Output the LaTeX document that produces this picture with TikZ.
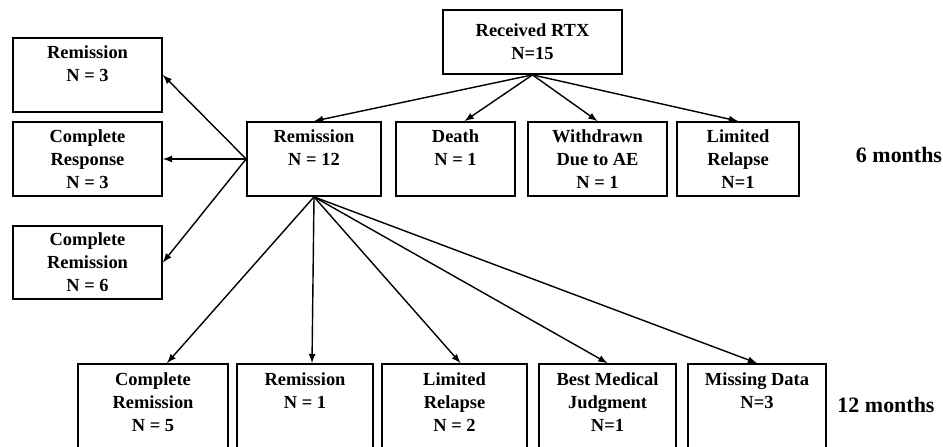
\documentclass[tikz,border=0pt]{standalone}
\usepackage{fontspec}
\setmainfont{Liberation Serif}
\usepackage{tikz}
\usetikzlibrary{shapes}
\pgfdeclarelayer{edgelayer}
\pgfdeclarelayer{nodelayer}
\pgfsetlayers{edgelayer,nodelayer,main}
\tikzstyle{box}=[draw, rectangle, line width=1pt, inner sep=0pt, align=center, minimum height=1.48cm, font=\bfseries\fontsize{10.5}{13.1}\selectfont]
\tikzstyle{period}=[inner sep=0pt, font=\bfseries\fontsize{12.5}{15}\selectfont]
\tikzstyle{arrow}=[->, >=latex, line width=0.8pt]
\begin{document}
\begin{tikzpicture}
	\useasboundingbox (0, 0) rectangle (18.86, 8.92);
	\begin{pgfonlayer}{nodelayer}
		\node [style=box, minimum width=3.58cm, minimum height=1.28cm] (0) at (10.65, 8.08) {Received RTX\\N=15};
		\node [style=box, minimum width=2.68cm] (1) at (6.28, 5.74) {Remission\\N = 12\\~};
		\node [style=box, minimum width=2.38cm] (2) at (9.11, 5.74) {Death\\N = 1\\~};
		\node [style=box, minimum width=2.78cm] (3) at (11.95, 5.74) {Withdrawn\\Due to AE\\N = 1};
		\node [style=box, minimum width=2.44cm] (4) at (14.76, 5.74) {Limited\\Relapse\\N=1};
		\node [style=box, minimum width=2.98cm] (5) at (1.75, 7.42) {Remission\\N = 3\\~};
		\node [style=box, minimum width=2.98cm] (6) at (1.75, 5.74) {Complete\\Response\\N = 3};
		\node [style=box, minimum width=2.98cm, minimum height=1.46cm] (7) at (1.75, 3.67) {Complete\\Remission\\N = 6};
		\node [style=box, minimum width=3.00cm, minimum height=2cm] (8) at (3.06, 0.64) {Complete\\Remission\\N = 5\\~};
		\node [style=box, minimum width=2.72cm, minimum height=2cm] (9) at (6.10, 0.64) {Remission\\N = 1\\~\\~};
		\node [style=box, minimum width=2.90cm, minimum height=2cm] (10) at (9.09, 0.64) {Limited\\Relapse\\N = 2\\~};
		\node [style=box, minimum width=2.74cm, minimum height=2cm] (11) at (12.15, 0.64) {Best Medical\\Judgment\\N=1\\~};
		\node [style=box, minimum width=2.76cm, minimum height=2cm] (12) at (15.14, 0.64) {Missing Data\\N=3\\~\\~};
		\node [style=period] (13) at (17.98, 5.82) {6 months};
		\node [style=period] (14) at (17.72, 0.82) {12 months};
	\end{pgfonlayer}
	\begin{pgfonlayer}{edgelayer}
		\draw [style=arrow] (0.south) to (1.north);
		\draw [style=arrow] (0.south) to ([xshift=0.18cm]2.north);
		\draw [style=arrow] (0.south) to (3.north);
		\draw [style=arrow] (0.south) to (4.north);
		\draw [style=arrow] (1.west) to (5.east);
		\draw [style=arrow] (1.west) to (6.east);
		\draw [style=arrow] (1.west) to (7.east);
		\draw [style=arrow] (1.south) to ([xshift=0.28cm]8.north);
		\draw [style=arrow] (1.south) to ([xshift=0.14cm]9.north);
		\draw [style=arrow] (1.south) to ([xshift=0.12cm]10.north);
		\draw [style=arrow] (1.south) to (11.north);
		\draw [style=arrow] (1.south) to (12.north);
	\end{pgfonlayer}
\end{tikzpicture}
\end{document}
